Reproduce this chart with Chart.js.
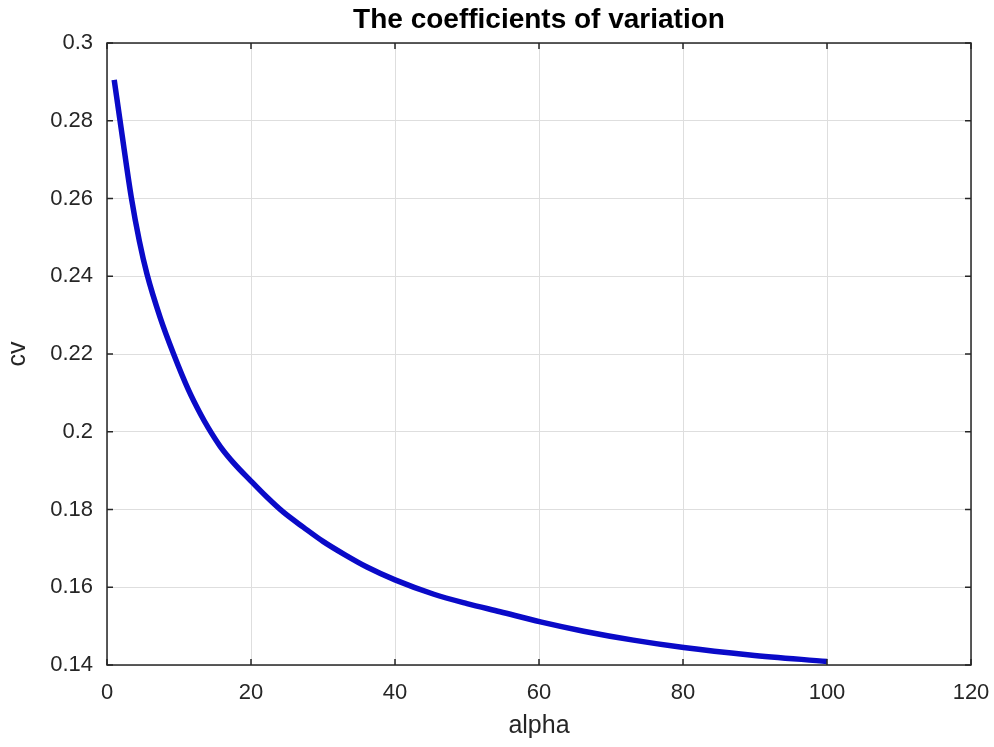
<!DOCTYPE html>
<html>
<head>
<meta charset="utf-8">
<title>The coefficients of variation</title>
<script src="https://cdn.jsdelivr.net/npm/chart.js@4.4.1/dist/chart.umd.min.js"></script>
<style>
  html, body { margin: 0; padding: 0; background: #ffffff; }
  #wrap { width: 994px; height: 747px; position: relative; }
</style>
</head>
<body>
<div id="wrap"><canvas id="cvChart"></canvas></div>
<script>
// Coefficient of variation against the shape parameter alpha
const alphaValues = [1, 2, 3.375, 4.5, 5.56, 7.4, 9.25, 11.33, 13, 14.07, 15.74, 17.58, 19.9, 22.2, 24.5, 27.3, 30, 33, 36.1, 40, 45.4, 50, 54.6, 60.2, 66.2, 73.1, 80.1, 89.3, 100];
const cvValues    = [0.2905, 0.2776, 0.2603, 0.2490, 0.2405, 0.2293, 0.2200, 0.2107, 0.2045, 0.2010, 0.1962, 0.1920, 0.1875, 0.1832, 0.1793, 0.1754, 0.1718, 0.1684, 0.1652, 0.1619, 0.1582, 0.1558, 0.1537, 0.1511, 0.1487, 0.1464, 0.1445, 0.1426, 0.1409];

const xTickValues = [0, 20, 40, 60, 80, 100, 120];
const yTickValues = [0.14, 0.16, 0.18, 0.2, 0.22, 0.24, 0.26, 0.28, 0.3];
const yTickLabels = ['0.14', '0.16', '0.18', '0.2', '0.22', '0.24', '0.26', '0.28', '0.3'];

const points = alphaValues.map((a, i) => ({ x: a, y: cvValues[i] }));

const AXIS_COLOR = '#262626';
const GRID_COLOR = '#dedede';
const FONT = 'Liberation Sans, Arial, Helvetica, sans-serif';

// Box around the axes with inward tick marks on all four sides
const boxPlugin = {
  id: 'axesBox',
  afterDraw(chart) {
    const { ctx, chartArea: a, scales } = chart;
    const tl = 6;
    ctx.save();
    ctx.strokeStyle = AXIS_COLOR;
    ctx.lineWidth = 1.5;
    ctx.beginPath();
    xTickValues.forEach(v => {
      const px = scales.x.getPixelForValue(v);
      ctx.moveTo(px, a.bottom); ctx.lineTo(px, a.bottom - tl);
      ctx.moveTo(px, a.top); ctx.lineTo(px, a.top + tl);
    });
    yTickValues.forEach(v => {
      const py = scales.y.getPixelForValue(v);
      ctx.moveTo(a.left, py); ctx.lineTo(a.left + tl, py);
      ctx.moveTo(a.right, py); ctx.lineTo(a.right - tl, py);
    });
    ctx.stroke();
    ctx.strokeRect(a.left, a.top, a.right - a.left, a.bottom - a.top);
    ctx.restore();
  }
};

new Chart(document.getElementById('cvChart'), {
  type: 'line',
  data: {
    datasets: [{
      data: points,
      borderColor: '#0a0ac8',
      borderWidth: 5.5,
      pointRadius: 0,
      cubicInterpolationMode: 'monotone',
      fill: false
    }]
  },
  options: {
    responsive: true,
    maintainAspectRatio: false,
    animation: false,
    layout: { padding: { top: 0, right: 23, bottom: 0, left: 0 } },
    plugins: {
      legend: { display: false },
      tooltip: { enabled: false },
      title: {
        display: true,
        fullSize: false,
        text: 'The coefficients of variation',
        color: '#000000',
        font: { family: FONT, size: 28, weight: 'bold', lineHeight: 1.2 },
        padding: { top: 3, bottom: 6.4 }
      }
    },
    scales: {
      x: {
        type: 'linear',
        min: 0,
        max: 120,
        afterBuildTicks(scale) { scale.ticks = xTickValues.map(v => ({ value: v })); },
        afterFit(scale) {
          scale.height = 82;
          scale.paddingLeft = 0;
          scale.paddingRight = 0;
        },
        ticks: {
          color: AXIS_COLOR,
          font: { family: FONT, size: 22 },
          padding: 15,
          maxRotation: 0,
          callback: v => String(v)
        },
        grid: { color: GRID_COLOR, lineWidth: 1, drawTicks: false },
        border: { display: false },
        title: {
          display: true,
          text: 'alpha',
          color: AXIS_COLOR,
          font: { family: FONT, size: 25 },
          padding: { top: 0, bottom: 6 }
        }
      },
      y: {
        type: 'linear',
        min: 0.14,
        max: 0.3,
        afterBuildTicks(scale) { scale.ticks = yTickValues.map(v => ({ value: v })); },
        afterFit(scale) {
          scale.width = 107;
          scale.paddingTop = 0;
          scale.paddingBottom = 0;
        },
        ticks: {
          color: AXIS_COLOR,
          font: { family: FONT, size: 22 },
          padding: 14,
          callback: (v, i) => yTickLabels[i]
        },
        grid: { color: GRID_COLOR, lineWidth: 1, drawTicks: false },
        border: { display: false },
        title: {
          display: true,
          text: 'cv',
          color: AXIS_COLOR,
          font: { family: FONT, size: 25 },
          padding: { top: 3, bottom: 0 }
        }
      }
    }
  },
  plugins: [boxPlugin]
});
</script>
</body>
</html>
